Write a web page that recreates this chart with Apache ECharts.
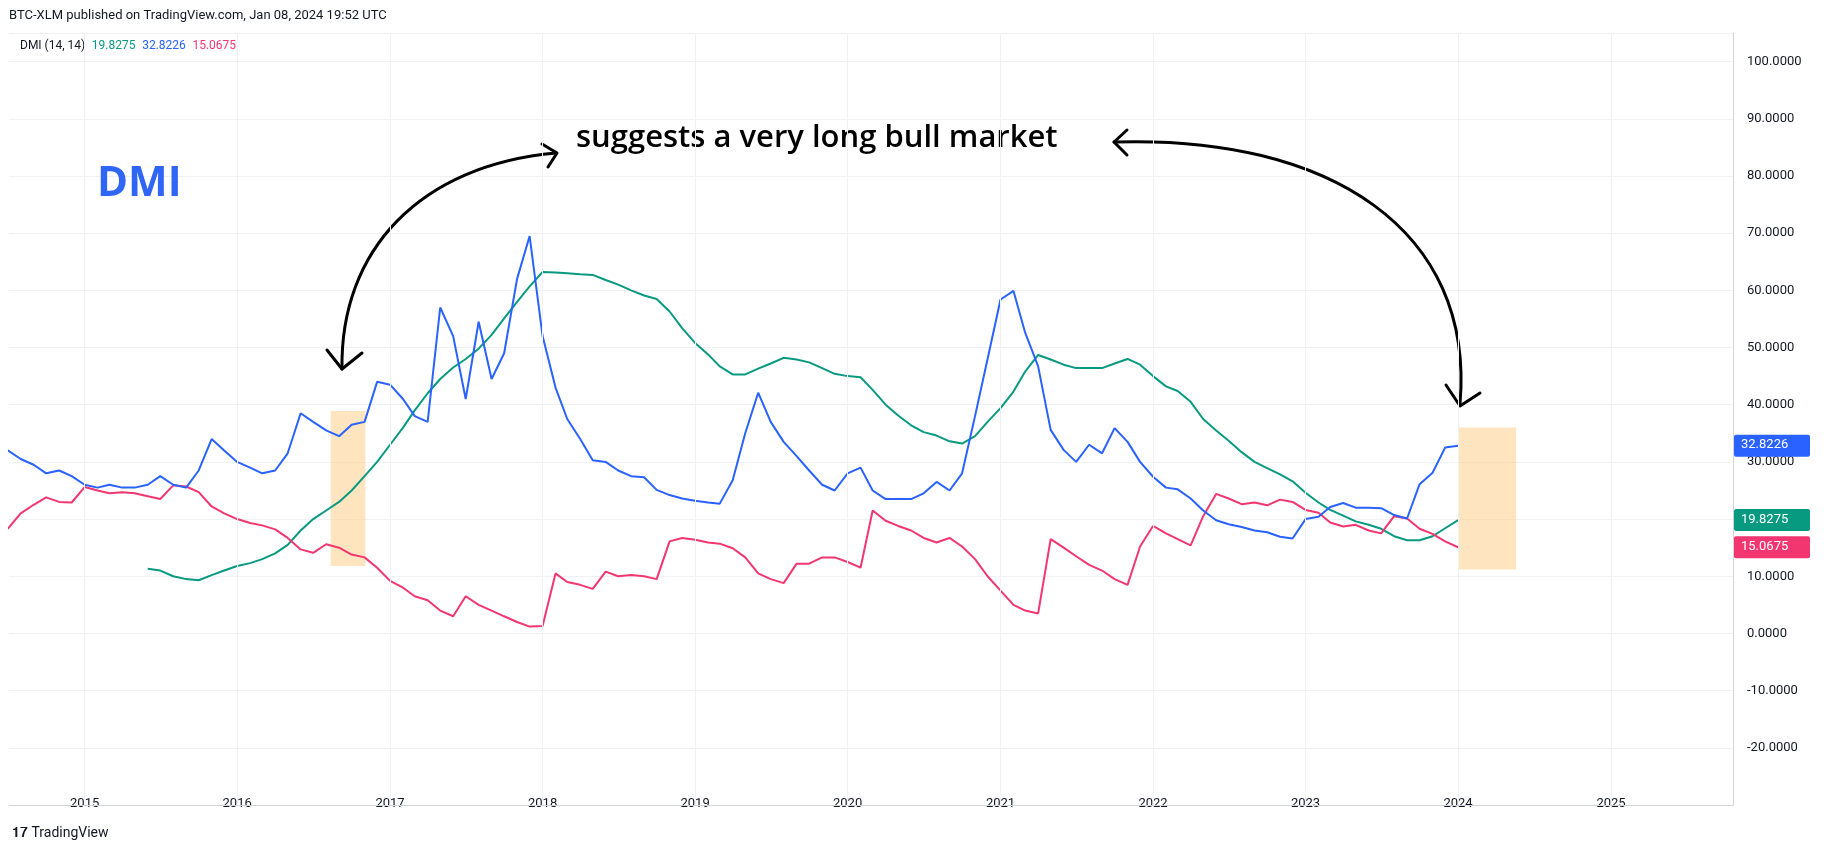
<!DOCTYPE html>
<html>
<head>
<meta charset="utf-8">
<script src="https://cdn.jsdelivr.net/npm/echarts@6/dist/echarts.min.js"></script>
<style>
  html, body { margin: 0; padding: 0; background: #fff; }
  #chart { width: 1824px; height: 852px; }
</style>
</head>
<body>
<div id="chart"></div>
<script>
// monthly values, Jul 2014 .. Jan 2024
var startYear = 2014, startMonth = 6;
var plusDI = [
  32,30.5,29.5,28,28.5,27.5,
  26,25.5,26,25.5,25.5,26,27.5,26,25.5,28.5,34,32,
  30,29,28,28.5,31.5,38.5,37,35.5,34.5,36.5,37,44,
  43.5,41,38,37,57,52,41,54.5,44.5,49,62,69.5,
  52,43,37.5,34,30.3,30,28.5,27.5,27.3,25.1,24.2,23.6,
  23.2,22.9,22.7,26.8,35,42.1,37,33.5,31,28.5,26,25,
  28,29,25,23.5,23.5,23.5,24.5,26.5,25,28,38,48,
  58.4,59.9,52.6,46.7,35.6,32.1,30,33,31.5,35.9,33.5,30,
  27.4,25.5,25.2,23.6,21.5,19.8,19.1,18.6,18,17.7,16.9,16.6,
  20,20.4,22.1,22.8,22,22,21.9,20.7,20.1,26.1,28.1,32.5,
  32.8226
];
var minusDI = [
  18.3,21,22.5,23.8,23,22.9,
  25.6,25,24.5,24.7,24.5,24,23.5,25.9,25.7,24.7,22.2,21,
  20,19.3,18.9,18.2,16.7,14.7,14.1,15.6,15,13.8,13.3,11.5,
  9.2,8,6.5,5.8,4,3,6.5,5,4,3,2,1.2,
  1.3,10.5,9,8.5,7.8,10.8,10,10.2,10,9.5,16.1,16.7,
  16.4,15.9,15.7,14.9,13.3,10.5,9.5,8.8,12.2,12.2,13.3,13.3,
  12.5,11.5,21.5,19.7,18.8,18,16.7,15.9,16.7,15.2,13,10,
  7.5,5,4,3.5,16.5,15,13.5,12,11,9.5,8.5,15.2,
  18.8,17.5,16.5,15.4,20.5,24.4,23.6,22.6,22.9,22.4,23.4,23,
  21.6,21.1,19.4,18.7,19,18,17.5,20.5,20.1,18.3,17.4,16.1,
  15.0675
];
var adx = [
  null,null,null,null,null,null,
  null,null,null,null,null,11.3,11,10,9.5,9.3,10.2,11,
  11.8,12.3,13,14,15.5,18,20,21.5,23,25,27.5,30,
  33,36,39,42,44.5,46.5,48,49.8,52.2,55.1,58,60.7,
  63.2,63.1,63,62.8,62.7,61.8,61,60,59.1,58.5,56.3,53.4,
  50.8,48.8,46.7,45.3,45.3,46.3,47.2,48.2,47.9,47.4,46.4,45.4,
  45,44.8,42.6,40,38.1,36.4,35.2,34.6,33.6,33.2,34.5,37,
  39.4,42.3,45.8,48.7,47.9,47,46.4,46.4,46.4,47.2,48,47,
  45,43.2,42.4,40.5,37.5,35.5,33.7,31.7,30,28.9,27.8,26.6,
  24.6,22.9,21.6,20.6,19.6,19,18.3,17,16.3,16.3,17,18.4,
  19.8275
];
var yearTicks = [2015, 2016, 2017, 2018, 2019, 2020, 2021, 2022, 2023, 2024, 2025];
var lastValues = { plus: 32.8226, adx: 19.8275, minus: 15.0675 };
var colBlue = '#2962FF', colGreen = '#089981', colRed = '#F23670';

function monthDate(i) {
  var m = startMonth + i;
  return new Date(Date.UTC(startYear + Math.floor(m / 12), m % 12, 1)).getTime();
}
function pairs(arr) {
  return arr.map(function (v, i) { return [monthDate(i), v]; });
}

var chart = echarts.init(document.getElementById('chart'));
var font = 'Roboto, "Noto Sans", sans-serif';
var xMin = Date.UTC(2014, 6, 4), xMax = Date.UTC(2025, 9, 20);
var option = {
  animation: false,
  backgroundColor: '#fff',
  grid: { left: 9, right: 91, top: 33, bottom: 47 },
  xAxis: {
    type: 'time', min: xMin, max: xMax,
    axisLine: { onZero: false, lineStyle: { color: '#d1d4dc' } },
    axisTick: { show: false },
    axisLabel: { show: false },
    splitLine: { show: false }
  },
  yAxis: {
    type: 'value',
    position: 'right',
    min: -30, max: 105, interval: 10,
    axisLine: { show: true, lineStyle: { color: '#d1d4dc' } },
    axisTick: { show: false },
    axisLabel: {
      color: '#131722', fontSize: 13, fontFamily: font, margin: 14,
      formatter: function (v) { return (v < -25 || v > 100) ? '' : v.toFixed(4); }
    },
    splitLine: { lineStyle: { color: '#f0f1f4' } }
  },
  series: [
    { name: 'years', type: 'line', data: [], silent: true,
      markLine: {
        silent: true, symbol: 'none',
        lineStyle: { color: '#f0f1f4', width: 1, type: 'solid' },
        label: { show: false },
        data: yearTicks.map(function (y) { return { xAxis: Date.UTC(y, 0, 1) }; })
      } },
    { name: 'ADX', type: 'line', data: pairs(adx), showSymbol: false,
      lineStyle: { color: colGreen, width: 2 }, z: 3 },
    { name: '+DI', type: 'line', data: pairs(plusDI), showSymbol: false,
      lineStyle: { color: colBlue, width: 2 }, z: 4,
      markArea: {
        silent: true,
        itemStyle: { color: 'rgba(255,204,128,0.5)' },
        data: [
          [{ coord: [Date.UTC(2016, 7, 12), 38.9] }, { coord: [Date.UTC(2016, 10, 3), 11.8] }],
          [{ coord: [Date.UTC(2024, 0, 3), 36.0] }, { coord: [Date.UTC(2024, 4, 19), 11.2] }]
        ]
      } },
    { name: '-DI', type: 'line', data: pairs(minusDI), showSymbol: false,
      lineStyle: { color: colRed, width: 2 }, z: 3 }
  ]
};
chart.setOption(option);

// price tags on the right axis
function tag(value, color) {
  var y = chart.convertToPixel({ yAxisIndex: 0 }, value);
  return {
    type: 'group', x: 1734, y: y - 11, z: 100,
    children: [
      { type: 'rect', z: 100, shape: { x: 0, y: 0, width: 76, height: 22, r: 2 }, style: { fill: color } },
      { type: 'text', z: 101, x: 7, y: 4, style: { text: value.toFixed(4), fill: '#fff', font: '13px ' + font } }
    ]
  };
}
var yearLabels = yearTicks.map(function (y) {
  var px = chart.convertToPixel({ xAxisIndex: 0 }, Date.UTC(y, 0, 1));
  return { type: 'text', x: px, y: 797, style: { text: String(y), fill: '#131722', font: '13px ' + font, align: 'center' } };
});
var arrowStyle = { stroke: '#000', lineWidth: 3, fill: null, lineCap: 'round', lineJoin: 'round' };
chart.setOption({
  graphic: [
    { type: 'text', x: 9, y: 9, style: { text: 'BTC-XLM published on TradingView.com, Jan 08, 2024 19:52 UTC', fill: '#131722', font: '13px ' + font } },
    { type: 'text', x: 20, y: 40, style: {
        text: '{a|DMI (14, 14)}  {g|19.8275}  {b|32.8226}  {r|15.0675}',
        rich: {
          a: { fill: '#131722', font: '12px ' + font },
          g: { fill: colGreen, font: '12px ' + font },
          b: { fill: colBlue, font: '12px ' + font },
          r: { fill: colRed, font: '12px ' + font }
        } } },
    { type: 'text', x: 97, y: 163, style: { text: 'DMI', fill: '#2f66f5', font: 'bold 42px "Open Sans", sans-serif' } },
    { type: 'text', x: 576, y: 123, style: { text: 'suggests a very long bull market', fill: '#000', font: '600 31px "Open Sans", sans-serif' } },
    { type: 'bezierCurve', shape: { x1: 556, y1: 153, cpx1: 420, cpy1: 165, cpx2: 340, cpy2: 250, x2: 342, y2: 369 }, style: arrowStyle },
    { type: 'polyline', shape: { points: [[327, 350], [342, 369], [362, 353]] }, style: arrowStyle },
    { type: 'polyline', shape: { points: [[542, 144], [557, 153], [548, 167]] }, style: arrowStyle },
    { type: 'bezierCurve', shape: { x1: 1114, y1: 142, cpx1: 1330, cpy1: 135, cpx2: 1475, cpy2: 230, x2: 1460, y2: 404 }, style: arrowStyle },
    { type: 'polyline', shape: { points: [[1446, 385], [1460, 406], [1480, 393]] }, style: arrowStyle },
    { type: 'polyline', shape: { points: [[1127, 130], [1114, 142], [1127, 155]] }, style: arrowStyle },
    tag(lastValues.plus, colBlue),
    tag(lastValues.adx, colGreen),
    tag(lastValues.minus, colRed),
    { type: 'text', x: 12, y: 826, style: { text: '𝟏𝟕 TradingView', fill: '#131722', font: '14px ' + font } }
  ].concat(yearLabels)
});
</script>
</body>
</html>
